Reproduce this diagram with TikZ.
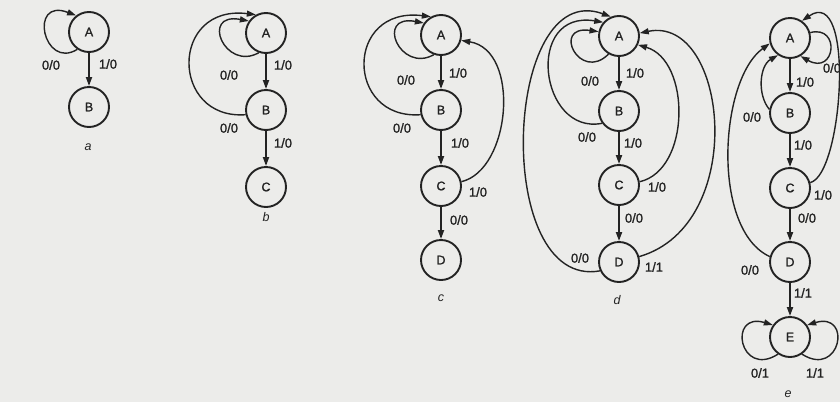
\documentclass[tikz,border=0pt]{standalone}
\usepackage{fontspec}
\setmainfont{Liberation Sans}
\newfontfamily\labfont{Liberation Sans}[FakeBold=1.3]
\usetikzlibrary{arrows.meta}
\definecolor{ink}{RGB}{35,35,35}
\definecolor{paper}{RGB}{236,236,234}
\begin{document}
\begin{tikzpicture}[x=1pt,y=-1pt,
  st/.style={circle,draw=ink,line width=1.9pt,minimum size=40pt,inner sep=0pt,font=\labfont\fontsize{12.5}{12.5}\selectfont,text=ink},
  lab/.style={font=\labfont\fontsize{13}{13}\selectfont,text=ink,inner sep=0pt},
  subcap/.style={font=\fontsize{12.5}{12.5}\selectfont\itshape,text=ink,inner sep=0pt},
  arr/.style={draw=ink,line width=1.4pt,-{Triangle[length=9pt,width=6pt]}},
  varr/.style={arr,line width=1.8pt},
]
\useasboundingbox[fill=paper] (0,0) rectangle (840,402);

% ---------- a ----------
\node[st] (aA) at (89,32) {A};
\node[st] (aB) at (89,107) {B};
\draw[varr] (aA) -- (aB);
\draw[arr] (aA.236) .. controls +(-34,21) and +(-48,-18.2) .. (aA.128);
\node[lab] (al1) at (51,65) {0/0};
\node[lab] (al2) at (108,64) {1/0};
\node[subcap] (acap) at (88,147) {a};

% ---------- b ----------
\node[st] (bA) at (266,33) {A};
\node[st] (bB) at (266,110) {B};
\node[st] (bC) at (266,187) {C};
\draw[varr] (bA) -- (bB);
\draw[varr] (bB) -- (bC);
\draw[arr] (bA.250) .. controls +(-34,19) and +(-49,-9) .. (bA.145);
\draw[arr] (bB.193) .. controls +(-75.5,5.3) and +(-86.3,-10.5) .. (bA.119);
\node[lab] (bl1) at (229,75) {0/0};
\node[lab] (bl2) at (283,65) {1/0};
\node[lab] (bl3) at (229,128) {0/0};
\node[lab] (bl4) at (283,143) {1/0};
\node[subcap] (bcap) at (266,217) {b};

% ---------- c ----------
\node[st] (cA) at (441,35) {A};
\node[st] (cB) at (441,110) {B};
\node[st] (cC) at (441,186) {C};
\node[st] (cD) at (441,260) {D};
\draw[varr] (cA) -- (cB);
\draw[varr] (cB) -- (cC);
\draw[varr] (cC) -- (cD);
\draw[arr] (cA.250) .. controls +(-34,19) and +(-49,-9) .. (cA.145);
\draw[arr] (cB.193) .. controls +(-75.5,5.3) and +(-86.3,-10.5) .. (cA.119);
\draw[arr] (cC.12) .. controls +(49.4,-11.8) and +(59.7,9.8) .. (cA.345);
\node[lab] (cl1) at (406,80) {0/0};
\node[lab] (cl2) at (458,73) {1/0};
\node[lab] (cl3) at (402,128) {0/0};
\node[lab] (cl4) at (460,143) {1/0};
\node[lab] (cl5) at (478,192) {1/0};
\node[lab] (cl6) at (459,220) {0/0};
\node[subcap] (ccap) at (441,298) {c};

% ---------- d ----------
\node[st] (dA) at (619,36) {A};
\node[st] (dB) at (619,111) {B};
\node[st] (dC) at (619,185) {C};
\node[st] (dD) at (619,262) {D};
\draw[varr] (dA) -- (dB);
\draw[varr] (dB) -- (dC);
\draw[varr] (dC) -- (dD);
\draw[arr] (dA.240) .. controls +(-29,28.7) and +(-47.4,-6.8) .. (dA.168);
\draw[arr] (dB.216) .. controls +(-62.8,12.2) and +(-78.9,-12.9) .. (dA.139);
\draw[arr] (dD.205) .. controls +(-108,19.5) and +(-108,-39.6) .. (dA.113);
\draw[arr] (dC.9) .. controls +(51.2,-11.9) and +(52.9,15.5) .. (dA.335);
\draw[arr] (dD.15) .. controls +(110,-31.8) and +(88,-18.2) .. (dA.8);
\node[lab] (dl1) at (590,81) {0/0};
\node[lab] (dl2) at (635,73) {1/0};
\node[lab] (dl3) at (587,137) {0/0};
\node[lab] (dl4) at (633,143) {1/0};
\node[lab] (dl5) at (657,187) {1/0};
\node[lab] (dl6) at (634,218) {0/0};
\node[lab] (dl7) at (580,258) {0/0};
\node[lab] (dl8) at (654,267) {1/1};
\node[subcap] (dcap) at (617,300) {d};

% ---------- e ----------
\node[st] (eA) at (790,38) {A};
\node[st] (eB) at (790,113) {B};
\node[st] (eC) at (790,188) {C};
\node[st] (eD) at (790,262) {D};
\node[st] (eE) at (790,337) {E};
\draw[varr] (eA) -- (eB);
\draw[varr] (eB) -- (eC);
\draw[varr] (eC) -- (eD);
\draw[varr] (eD) -- (eE);
\draw[arr] (eB.170) .. controls +(-12.3,-14.5) and +(-18.5,10.6) .. (eA.235);
\draw[arr] (eD.165) .. controls +(-58.7,-26.8) and +(-50.7,36.8) .. (eA.195);
\draw[arr] (eA.15) .. controls +(30.7,-7.8) and +(35,19.7) .. (eA.300);
\draw[arr] (eC.15) .. controls +(32.7,-7.8) and +(53.5,-36.6) .. (eA.55);
\draw[arr] (eE.235) .. controls +(-38.5,24.6) and +(-45.6,-13.5) .. (eE.145);
\draw[arr] (eE.305) .. controls +(38.5,24.6) and +(45.6,-13.5) .. (eE.35);
\node[lab] (el1) at (805,82) {1/0};
\node[lab] (el2) at (752,117) {0/0};
\node[lab] (el3) at (832,68) {0/0};
\node[lab] (el4) at (803,145) {1/0};
\node[lab] (el5) at (823,195) {1/0};
\node[lab] (el6) at (807,218) {0/0};
\node[lab] (el7) at (750,270) {0/0};
\node[lab] (el8) at (803,293) {1/1};
\node[lab] (el9) at (760,373) {0/1};
\node[lab] (el10) at (815,373) {1/1};
\node[subcap] (ecap) at (788,394) {e};
\end{tikzpicture}
\end{document}
